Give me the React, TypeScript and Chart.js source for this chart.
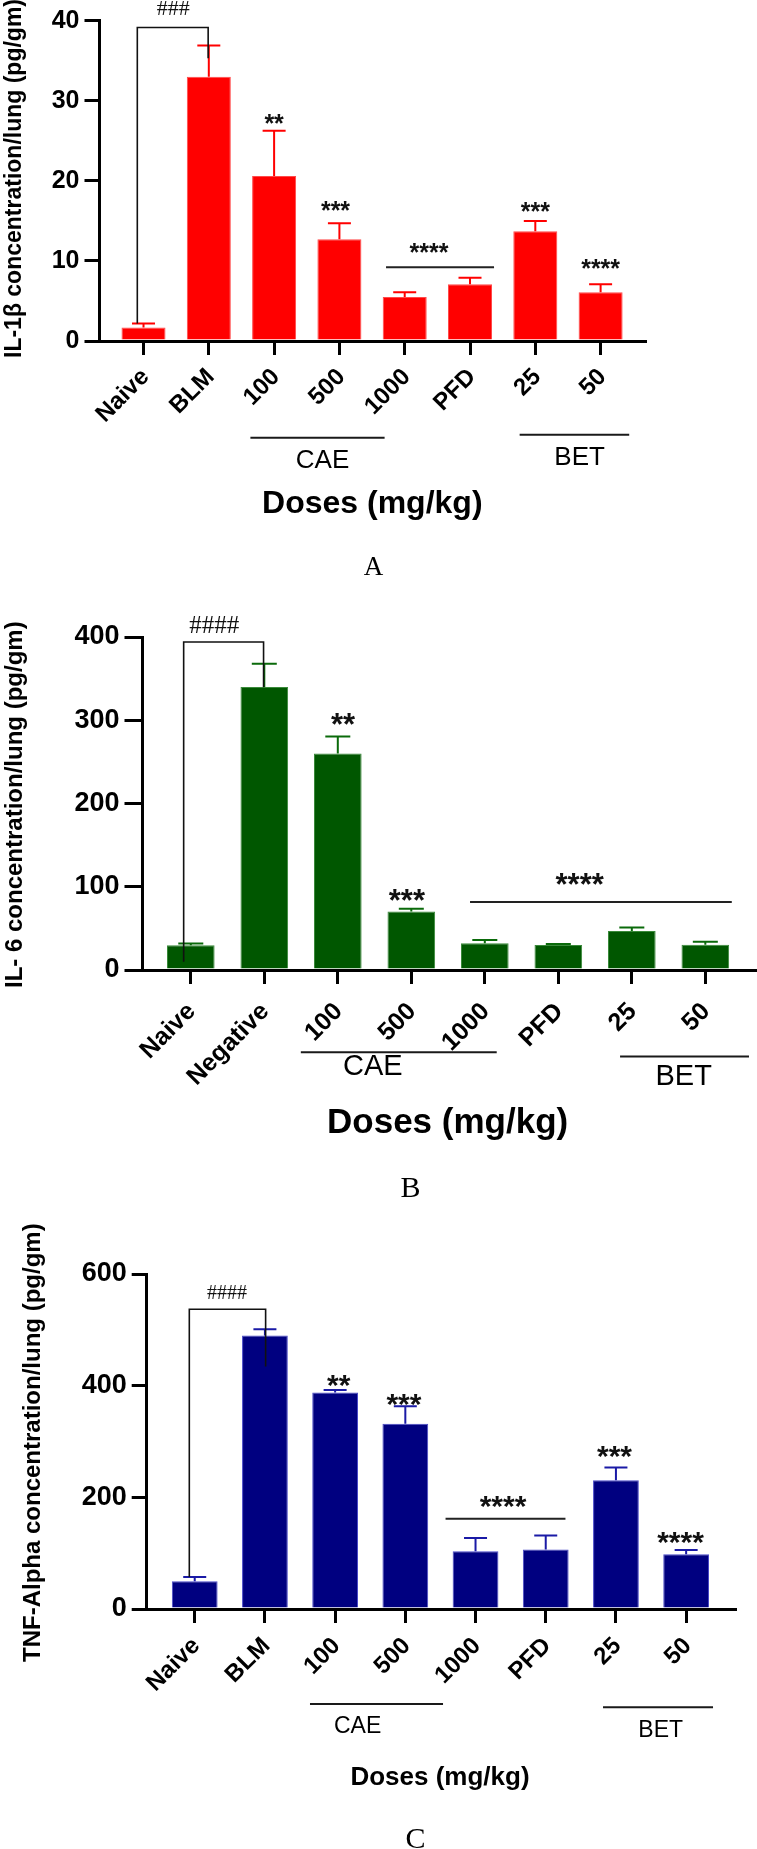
import React, { useEffect, useRef } from 'react';
import { Chart, registerables } from 'chart.js';

Chart.register(...registerables);

const SANS = '"Liberation Sans", Arial, Helvetica, sans-serif';
const SERIF = '"Liberation Serif", "Times New Roman", serif';

// ---------- Panel A : IL-1β ----------
const categoriesA = ['Naive', 'BLM', '100', '500', '1000', 'PFD', '25', '50'];
const il1bMeans = [1.7, 33.0, 20.6, 12.7, 5.5, 7.1, 13.7, 6.1];
const il1bSem = [0.5, 3.9, 5.65, 2.0, 0.6, 0.8, 1.3, 1.0];
const yTicksA = [0, 10, 20, 30, 40];

// ---------- Panel B : IL-6 ----------
const categoriesB = ['Naive', 'Negative', '100', '500', '1000', 'PFD', '25', '50'];
const il6Means = [29.6, 340, 260, 70.3, 32.2, 30, 46.7, 30.4];
const il6Sem = [2.1, 28, 20.6, 3.4, 3.8, 1.3, 4.3, 3.5];
const yTicksB = [0, 100, 200, 300, 400];

// ---------- Panel C : TNF-Alpha ----------
const categoriesC = ['Naive', 'BLM', '100', '500', '1000', 'PFD', '25', '50'];
const tnfMeans = [49.8, 489.7, 387.7, 331.8, 103.4, 106.5, 230.7, 98];
const tnfSem = [7.7, 11.3, 4.6, 31.4, 23.8, 25.3, 22.9, 7.7];
const yTicksC = [0, 200, 400, 600];

type Star = { text: string; at: number; y: number; line?: [number, number, number] };
type Group = { label: string; from: number; to: number; lineY: number; textX: number; textY: number };
type PanelCfg = {
  key: string;
  top: number; height: number;
  categories: string[]; means: number[]; sem: number[]; yTicks: number[];
  axisX: number; plotTop: number; axisY: number; rightPad: number;
  catStart: number; catRange: number; barPct: number;
  fill: string; border: string; err: string; capW: number;
  yTickLen: number; xTickLen: number; yLabelPad: number; xLabelPad: number; labelOffset: number;
  yTickFont: number; xTickFont: number;
  yTitle: { text: string; x: number; y: number; size: number };
  xTitle: { text: string; x: number; y: number; size: number };
  groups: Group[]; groupFont: number;
  letter: { text: string; x: number; y: number; size: number };
  bracket: { left: number; right: number; top: number; leftBottom: number; rightBottom: number; label: string; labelX: number; labelY: number; size: number };
  stars: Star[]; starSize: number;
};

const panels: PanelCfg[] = [
  {
    key: 'A', top: 0, height: 600,
    categories: categoriesA, means: il1bMeans, sem: il1bSem, yTicks: yTicksA,
    axisX: 99.5, plotTop: 20.7, axisY: 341, rightPad: 111.4,
    catStart: -0.674, catRange: 8.363, barPct: 0.674,
    fill: '#ff0000', border: '#ff4a4a', err: '#ff0000', capW: 23,
    yTickLen: 15, xTickLen: 14, yLabelPad: 5, xLabelPad: 8, labelOffset: 2,
    yTickFont: 25, xTickFont: 24,
    yTitle: { text: 'IL-1β concentration/lung (pg/gm)', x: 20.5, y: 358, size: 23 },
    xTitle: { text: 'Doses (mg/kg)', x: 372.3, y: 513.3, size: 32 },
    groups: [
      { label: 'CAE', from: 1.637, to: 3.692, lineY: 437.7, textX: 2.741, textY: 468.3 },
      { label: 'BET', from: 5.76, to: 7.438, lineY: 434.7, textX: 6.679, textY: 465 },
    ],
    groupFont: 26,
    letter: { text: 'A', x: 373.6, y: 575, size: 27 },
    bracket: { left: -0.095, right: 0.99, top: 39.16, leftBottom: 2.2, rightBottom: 35.3, label: '###', labelX: 0.455, labelY: 41.6, size: 22 },
    stars: [
      { text: '**', at: 2, y: 27.9 },
      { text: '***', at: 2.94, y: 17 },
      { text: '****', at: 4.372, y: 11.8, line: [3.714, 5.368, 9.2] },
      { text: '***', at: 6, y: 16.9 },
      { text: '****', at: 7, y: 9.75 },
    ],
    starSize: 25,
  },
  {
    key: 'B', top: 600, height: 610,
    categories: categoriesB, means: il6Means, sem: il6Sem, yTicks: yTicksB,
    axisX: 142.5, plotTop: 37, axisY: 370, rightPad: 0,
    catStart: -0.657, catRange: 8.36, barPct: 0.648,
    fill: '#005700', border: '#3a8a3a', err: '#0a6a0a', capW: 25,
    yTickLen: 18, xTickLen: 14, yLabelPad: 5, xLabelPad: 13, labelOffset: 1,
    yTickFont: 27, xTickFont: 25,
    yTitle: { text: 'IL- 6 concentration/lung (pg/gm)', x: 22, y: 388, size: 24 },
    xTitle: { text: 'Doses (mg/kg)', x: 447.6, y: 532.6, size: 35 },
    groups: [
      { label: 'CAE', from: 1.497, to: 4.162, lineY: 452.3, textX: 2.476, textY: 475 },
      { label: 'BET', from: 5.84, to: 7.594, lineY: 456.4, textX: 6.705, textY: 485 },
    ],
    groupFont: 29,
    letter: { text: 'B', x: 410.6, y: 596.7, size: 30 },
    bracket: { left: -0.097, right: 0.99, top: 394, leftBottom: 10, rightBottom: 339.6, label: '####', labelX: 0.32, labelY: 415, size: 25 },
    stars: [
      { text: '**', at: 2.07, y: 303.6 },
      { text: '***', at: 2.94, y: 91.2 },
      { text: '****', at: 5.29, y: 110.8, line: [3.799, 7.36, 81.6] },
    ],
    starSize: 31,
  },
  {
    key: 'C', top: 1210, height: 639,
    categories: categoriesC, means: tnfMeans, sem: tnfSem, yTicks: yTicksC,
    axisX: 146.7, plotTop: 64, axisY: 399, rightPad: 22,
    catStart: -0.684, catRange: 8.38, barPct: 0.652,
    fill: '#000080', border: '#4a4ac8', err: '#1a1aa6', capW: 23,
    yTickLen: 15, xTickLen: 14, yLabelPad: 5, xLabelPad: 9, labelOffset: 1.5,
    yTickFont: 27, xTickFont: 24,
    yTitle: { text: 'TNF-Alpha concentration/lung (pg/gm)', x: 40, y: 452, size: 24 },
    xTitle: { text: 'Doses (mg/kg)', x: 440, y: 574.5, size: 26 },
    groups: [
      { label: 'CAE', from: 1.642, to: 3.537, lineY: 494, textX: 2.32, textY: 523 },
      { label: 'BET', from: 5.816, to: 7.383, lineY: 497.3, textX: 6.637, textY: 526.7 },
    ],
    groupFont: 23,
    letter: { text: 'C', x: 415.5, y: 638, size: 30 },
    bracket: { left: -0.077, right: 1.01, top: 536.8, leftBottom: 57.3, rightBottom: 434.5, label: '####', labelX: 0.46, labelY: 568, size: 20 },
    stars: [
      { text: '**', at: 2.05, y: 413 },
      { text: '***', at: 2.98, y: 378.6 },
      { text: '****', at: 4.392, y: 197, line: [3.573, 5.281, 161.7] },
      { text: '***', at: 5.98, y: 287 },
      { text: '****', at: 6.92, y: 131.8 },
    ],
    starSize: 30,
  },
];

function annotPlugin(p: PanelCfg) {
  return {
    id: 'annot' + p.key,
    afterDatasetsDraw(chart: any) {
      const ctx: CanvasRenderingContext2D = chart.ctx;
      const xs = chart.scales.x;
      const ys = chart.scales.y;
      const meta = chart.getDatasetMeta(0);
      ctx.save();
      // error bars (mean + SEM)
      ctx.strokeStyle = p.err;
      ctx.lineWidth = 2;
      p.means.forEach((m, i) => {
        const el = meta.data[i];
        if (!el) return;
        const cx = el.x;
        const y0 = ys.getPixelForValue(m);
        const y1 = ys.getPixelForValue(m + p.sem[i]);
        ctx.beginPath();
        ctx.moveTo(cx, y0);
        ctx.lineTo(cx, y1);
        ctx.moveTo(cx - p.capW / 2, y1);
        ctx.lineTo(cx + p.capW / 2, y1);
        ctx.stroke();
      });
      // bracket
      const b = p.bracket;
      const bl = xs.getPixelForValue(b.left);
      const br = xs.getPixelForValue(b.right);
      const bt = ys.getPixelForValue(b.top);
      ctx.strokeStyle = '#111';
      ctx.lineWidth = 1.6;
      ctx.beginPath();
      ctx.moveTo(bl, ys.getPixelForValue(b.leftBottom));
      ctx.lineTo(bl, bt);
      ctx.lineTo(br, bt);
      ctx.lineTo(br, ys.getPixelForValue(b.rightBottom));
      ctx.stroke();
      ctx.fillStyle = '#111';
      ctx.font = `${b.size}px ${SERIF}`;
      ctx.textAlign = 'center';
      ctx.textBaseline = 'alphabetic';
      ctx.fillText(b.label, xs.getPixelForValue(b.labelX), ys.getPixelForValue(b.labelY) + 0.34 * b.size);
      // stars
      ctx.font = `bold ${p.starSize}px ${SANS}`;
      p.stars.forEach((s) => {
        const sx = xs.getPixelForValue(s.at);
        const sy = ys.getPixelForValue(s.y);
        ctx.fillStyle = '#111';
        ctx.fillText(s.text, sx, sy + 0.56 * p.starSize);
        if (s.line) {
          ctx.strokeStyle = '#222';
          ctx.lineWidth = 2;
          const ly = ys.getPixelForValue(s.line[2]);
          ctx.beginPath();
          ctx.moveTo(xs.getPixelForValue(s.line[0]), ly);
          ctx.lineTo(xs.getPixelForValue(s.line[1]), ly);
          ctx.stroke();
        }
      });
      ctx.restore();
    },
    afterDraw(chart: any) {
      const ctx: CanvasRenderingContext2D = chart.ctx;
      const xs = chart.scales.x;
      ctx.save();
      ctx.fillStyle = '#000';
      // y title
      const t = p.yTitle;
      ctx.save();
      ctx.translate(t.x, t.y);
      ctx.rotate(-Math.PI / 2);
      ctx.textAlign = 'left';
      ctx.textBaseline = 'alphabetic';
      ctx.font = `bold ${t.size}px ${SANS}`;
      ctx.fillText(t.text, 0, 0);
      ctx.restore();
      // groups
      ctx.textAlign = 'center';
      ctx.textBaseline = 'alphabetic';
      p.groups.forEach((g) => {
        ctx.strokeStyle = '#1a1a1a';
        ctx.lineWidth = 2;
        ctx.beginPath();
        ctx.moveTo(xs.getPixelForValue(g.from), g.lineY);
        ctx.lineTo(xs.getPixelForValue(g.to), g.lineY);
        ctx.stroke();
        ctx.font = `${p.groupFont}px ${SANS}`;
        ctx.fillText(g.label, xs.getPixelForValue(g.textX), g.textY);
      });
      // x title
      ctx.font = `bold ${p.xTitle.size}px ${SANS}`;
      ctx.fillText(p.xTitle.text, p.xTitle.x, p.xTitle.y);
      // panel letter
      ctx.font = `${p.letter.size}px ${SERIF}`;
      ctx.fillText(p.letter.text, p.letter.x, p.letter.y);
      ctx.restore();
    },
  };
}

function buildConfig(p: PanelCfg): any {
  return {
    type: 'bar',
    data: {
      labels: p.categories,
      datasets: [
        {
          data: p.means,
          backgroundColor: p.fill,
          borderColor: p.border,
          borderWidth: 1,
          barPercentage: p.barPct,
          categoryPercentage: 1,
        },
      ],
    },
    options: {
      animation: false,
      responsive: true,
      maintainAspectRatio: false,
      events: [],
      layout: { padding: { left: 0, top: p.plotTop, right: p.rightPad, bottom: 0 } },
      plugins: { legend: { display: false }, tooltip: { enabled: false }, title: { display: false } },
      scales: {
        x: {
          type: 'category',
          offset: true,
          grid: { display: true, drawOnChartArea: false, drawTicks: true, tickLength: p.xTickLen, lineWidth: 3, color: '#000', offset: false },
          border: { display: true, width: 3, color: '#000' },
          ticks: {
            autoSkip: false,
            maxRotation: 45,
            minRotation: 45,
            padding: p.xLabelPad,
            labelOffset: p.labelOffset,
            color: '#000',
            font: { family: SANS, size: p.xTickFont, weight: 'bold' },
          },
          afterBuildTicks: (s: any) => {
            s._startValue = p.catStart;
            s._valueRange = p.catRange;
          },
          afterFit: (s: any) => {
            s.height = p.height - p.axisY;
          },
        },
        y: {
          min: p.yTicks[0],
          max: p.yTicks[p.yTicks.length - 1],
          ticks: {
            stepSize: p.yTicks[1] - p.yTicks[0],
            padding: p.yLabelPad,
            color: '#000',
            font: { family: SANS, size: p.yTickFont, weight: 'bold' },
          },
          grid: { display: true, drawOnChartArea: false, drawTicks: true, tickLength: p.yTickLen, lineWidth: 3, color: '#000' },
          border: { display: true, width: 3, color: '#000' },
          afterFit: (s: any) => {
            s.width = p.axisX;
          },
        },
      },
    },
    plugins: [annotPlugin(p)],
  };
}

function PanelChart({ cfg }: { cfg: PanelCfg }) {
  const ref = useRef<HTMLCanvasElement>(null);
  useEffect(() => {
    if (!ref.current) return;
    const chart = new Chart(ref.current, buildConfig(cfg));
    return () => chart.destroy();
  }, [cfg]);
  return (
    <div style={{ position: 'absolute', left: 0, top: cfg.top, width: 757, height: cfg.height }}>
      <canvas ref={ref} />
    </div>
  );
}

export default function App() {
  return (
    <div style={{ position: 'absolute', left: 0, top: 0, width: 757, height: 1849, overflow: 'hidden', background: '#fff' }}>
      {panels.map((p) => (
        <PanelChart key={p.key} cfg={p} />
      ))}
    </div>
  );
}
